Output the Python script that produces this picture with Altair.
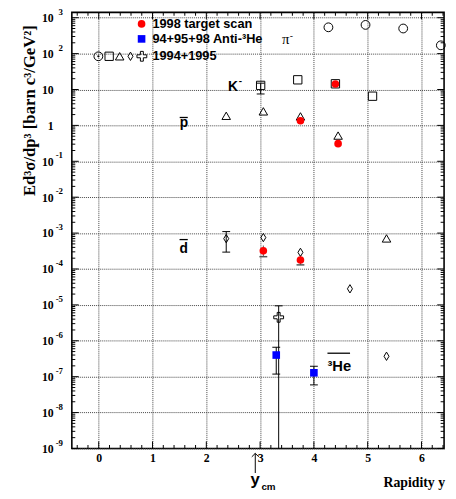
import altair as alt
import pandas as pd

# ---------------- data ----------------
# 1994+1995 open symbols
pim_x = [4.27, 4.96, 5.66, 6.36]            # pi-  (open circles)
pim_y = [540, 630, 500, 170]
km_x = [3.01, 3.70, 4.40, 5.09]             # K-   (open squares)
km_y = [13.0, 18.6, 14.4, 6.5]
pbar_x = [2.37, 3.06, 3.75, 4.45, 5.35]     # pbar (open triangles)
pbar_y = [1.85, 2.46, 1.78, 0.52, 7.1e-4]
dbar_x = [2.37, 3.06, 3.75, 4.67, 5.35]     # dbar (open diamonds)
dbar_y = [7.0e-4, 7.5e-4, 2.9e-4, 2.8e-5, 3.7e-7]
cross_x = [3.345]                           # open cross
cross_y = [4.5e-6]
# 1998 target scan (red)
red_x = [3.06, 3.75, 3.75, 4.40, 4.45]
red_y = [3.2e-4, 1.78e-4, 1.35, 14.2, 0.31]
# 94+95+98 Anti-3He (blue)
blue_x = [3.30, 4.00]
blue_y = [4.0e-7, 1.28e-7]

# error bars (black)
err_x = [2.37, 3.01, 3.345, 3.30, 4.00]
err_lo = [2.95e-4, 7.5, 1e-9, 1.18e-7, 5.9e-8]
err_hi = [1.1e-3, 15.0, 9.4e-6, 6.6e-7, 1.95e-7]
# error bars (red points, grey)
rerr_x = [3.06, 3.75]
rerr_lo = [2.2e-4, 1.3e-4]
rerr_hi = [4.5e-4, 2.4e-4]

y_cm = 2.91

x_major = [0, 1, 2, 3, 4, 5, 6]
x_minor = [-0.4, -0.2, 0.2, 0.4, 0.6, 0.8, 1.2, 1.4, 1.6, 1.8, 2.2, 2.4, 2.6, 2.8,
           3.2, 3.4, 3.6, 3.8, 4.2, 4.4, 4.6, 4.8, 5.2, 5.4, 5.6, 5.8, 6.2, 6.4]
y_exps = list(range(-9, 4))
y_major = [10.0 ** k for k in y_exps]
y_minor = [m * 10.0 ** k for k in range(-9, 4) for m in range(2, 10) if m * 10.0 ** k < 1400]
exp_labels = [str(k) for k in y_exps if k not in (0, 1)]
exp_vals = [10.0 ** k for k in y_exps if k not in (0, 1)]

legend_texts = ["1998 target scan", "94+95+98 Anti-\u00b3He", "1994+1995"]
y_title = "Ed\u00b3\u03c3/dp\u00b3  [barn c\u00b3/GeV\u00b2]"
x_title = "Rapidity y"

# ---------------- layout ----------------
W, H = 379, 444
SERIF = "Liberation Serif"
SANS = "Liberation Sans"

xs = alt.Scale(domain=[-0.5, 6.42], nice=False, zero=False)
ys = alt.Scale(type="log", domain=[1e-9, 1406], nice=False)

AXX = alt.Axis(values=x_major, title=None, grid=True, gridDash=[1, 1], gridColor="#444",
               gridWidth=1, ticks=False, domain=False, labelFont=SERIF, labelFontWeight="bold",
               labelFontSize=12, labelColor="black", labelPadding=4, labelFlush=False,
               labelOverlap=False)
AXY = alt.Axis(values=y_major, title=None, grid=True, gridDash=[1, 1], gridColor="#444",
               gridWidth=1, ticks=False, domain=False, labelFont=SERIF, labelFontWeight="bold",
               labelFontSize=12, labelColor="black", labelPadding=19, labelFlush=False,
               labelOverlap=False, labelBaseline="middle",
               labelExpr="datum.value == 1 ? '1' : '10'")

def X(f):
    return alt.X(f, type="quantitative", scale=xs, axis=AXX)

def Y(f):
    return alt.Y(f, type="quantitative", scale=ys, axis=AXY)

def pts(x, y):
    return pd.DataFrame({"x": x, "y": y})

dummy = pd.DataFrame({"a": [0]})

layers = []

# exponents of the y labels
layers.append(alt.Chart(pd.DataFrame({"v": exp_vals, "t": exp_labels})).mark_text(
    align="right", baseline="middle", dy=-6, font=SERIF, fontWeight="bold", fontSize=9,
    color="black").encode(x=alt.value(-9), y=Y("v"), text="t:N"))

# inner ticks on all four sides
TL, TS = 7, 3.5
for vals, ln in ((x_major, TL), (x_minor, TS)):
    d = pd.DataFrame({"x": vals})
    layers.append(alt.Chart(d).mark_tick(orient="vertical", size=ln, thickness=1,
                                         color="black", opacity=1).encode(
        x=X("x"), y=alt.value(H - ln / 2)))
    layers.append(alt.Chart(d).mark_tick(orient="vertical", size=ln, thickness=1,
                                         color="black", opacity=1).encode(
        x=X("x"), y=alt.value(ln / 2)))
for vals, ln in ((y_major, TL), (y_minor, TS)):
    d = pd.DataFrame({"y": vals})
    layers.append(alt.Chart(d).mark_tick(orient="horizontal", size=ln, thickness=1,
                                         color="black", opacity=1).encode(
        y=Y("y"), x=alt.value(ln / 2)))
    layers.append(alt.Chart(d).mark_tick(orient="horizontal", size=ln, thickness=1,
                                         color="black", opacity=1).encode(
        y=Y("y"), x=alt.value(W - ln / 2)))

# error bars
err = pd.DataFrame({"x": err_x, "lo": err_lo, "hi": err_hi})
layers.append(alt.Chart(err).mark_rule(color="black", strokeWidth=1).encode(
    x=X("x"), y=Y("lo"), y2="hi"))
cap_df = pd.DataFrame({"x": err_x * 2, "y": err_lo + err_hi})
cap_df = cap_df[cap_df["y"] > 1e-9]
layers.append(alt.Chart(cap_df).mark_tick(orient="horizontal", size=8, thickness=1,
                                          color="black", opacity=1).encode(x=X("x"), y=Y("y")))
rerr = pd.DataFrame({"x": rerr_x, "lo": rerr_lo, "hi": rerr_hi})
layers.append(alt.Chart(rerr).mark_rule(color="#555", strokeWidth=1).encode(
    x=X("x"), y=Y("lo"), y2="hi"))
layers.append(alt.Chart(pd.DataFrame({"x": rerr_x, "y": rerr_lo})).mark_tick(
    orient="horizontal", size=8, thickness=1.5, color="#555", opacity=1).encode(x=X("x"), y=Y("y")))

DIAMOND = "M0,-1L0.6,0L0,1L-0.6,0Z"
CROSS = ("M-0.3,-1L0.3,-1L0.3,-0.3L1,-0.3L1,0.3L0.3,0.3L0.3,1L-0.3,1L-0.3,0.3"
         "L-1,0.3L-1,-0.3L-0.3,-0.3Z")

def open_pts(x, y, shape, size):
    return alt.Chart(pts(x, y)).mark_point(shape=shape, size=size, filled=False,
                                           stroke="black", strokeWidth=1, opacity=1
                                           ).encode(x=X("x"), y=Y("y"))

layers.append(open_pts(pim_x, pim_y, "circle", 80))
layers.append(open_pts(km_x, km_y, "square", 72))
layers.append(open_pts(pbar_x, pbar_y, "triangle-up", 75))
layers.append(open_pts(dbar_x, dbar_y, DIAMOND, 72))
layers.append(open_pts(cross_x, cross_y, CROSS, 100))

layers.append(alt.Chart(pts(red_x, red_y)).mark_point(shape="circle", size=60, filled=True,
                                                      color="#ff0000", opacity=1).encode(x=X("x"), y=Y("y")))
layers.append(alt.Chart(pts(blue_x, blue_y)).mark_point(shape="square", size=60, filled=True,
                                                        color="#0000ff", opacity=1).encode(x=X("x"), y=Y("y")))

# particle labels (data coordinates)
def lab(text, x, y, font=SANS, size=14, weight="bold", dx=0, dy=0):
    return alt.Chart(pts([x], [y])).mark_text(text=text, align="left", baseline="alphabetic",
                                              font=font, fontSize=size, fontWeight=weight,
                                              color="black", dx=dx, dy=dy).encode(x=X("x"), y=Y("y"))

layers.append(lab("\u03c0", 3.407, 187, font=SERIF, size=15, weight="normal"))
layers.append(lab("-", 3.407, 187, font=SANS, size=10, weight="normal", dx=8, dy=-5))
layers.append(lab("K", 2.403, 8.93, size=14))
layers.append(lab("-", 2.403, 8.93, size=10, dx=11, dy=-7))
layers.append(lab("p", 1.505, 0.885, size=14))
layers.append(lab("d", 1.502, 2.73e-4, size=14))
layers.append(lab("\u00b3He", 4.252, 1.42e-7, size=15))
ovl = pd.DataFrame({"x": [1.505, 1.502, 4.252], "x2": [1.655, 1.655, 4.672],
                    "y": [1.66, 6.59e-4, 4.5e-7]})
layers.append(alt.Chart(ovl).mark_rule(color="black", strokeWidth=1.3).encode(
    x=X("x"), x2="x2", y=Y("y")))

# y_cm arrow below axis
ycm = pd.DataFrame({"x": [y_cm]})
layers.append(alt.Chart(ycm).mark_rule(color="black", strokeWidth=1).encode(
    x=X("x"), y=alt.value(449), y2=alt.value(469)))
layers.append(alt.Chart(ycm).mark_point(shape="M-1,1L0,0L1,1", size=50, filled=False,
                                        stroke="black", strokeWidth=1, opacity=1).encode(
    x=X("x"), y=alt.value(449)))

def vtext(text, x, y, font=SANS, size=13, weight="bold", align="left", angle=0):
    return alt.Chart(dummy).mark_text(text=text, align=align, baseline="alphabetic", font=font,
                                      fontSize=size, fontWeight=weight, color="black",
                                      angle=angle).encode(x=alt.value(x), y=alt.value(y))

layers.append(vtext("y", 182, 481, size=17))
layers.append(vtext("cm", 193, 486, size=10))
layers.append(vtext(x_title, 380, 483, font=SERIF, size=14, align="right"))
layers.append(vtext(y_title, -38, 100, font=SERIF, size=17, align="center", angle=270))

# legend
def vpt(x, y, shape, size, filled, color):
    if filled:
        mk = alt.Chart(dummy).mark_point(shape=shape, size=size, filled=True, color=color, opacity=1)
    else:
        mk = alt.Chart(dummy).mark_point(shape=shape, size=size, filled=False, stroke=color,
                                         strokeWidth=1, opacity=1)
    return mk.encode(x=alt.value(x), y=alt.value(y))

layers.append(vpt(71, 11.7, "circle", 60, True, "#ff0000"))
layers.append(vpt(71, 27, "square", 60, True, "#0000ff"))
layers.append(vpt(27, 44.7, "circle", 80, False, "black"))
layers.append(vpt(27, 44.7, "circle", 5, True, "black"))
layers.append(vpt(38, 44.7, "square", 72, False, "black"))
layers.append(vpt(48.7, 44.7, "triangle-up", 75, False, "black"))
layers.append(vpt(59.7, 44.7, DIAMOND, 72, False, "black"))
layers.append(vpt(71.3, 44.7, CROSS, 100, False, "black"))
layers.append(vtext(legend_texts[0], 82, 16, size=13))
layers.append(vtext(legend_texts[1], 82, 31.3, size=13))
layers.append(vtext(legend_texts[2], 82, 48.7, size=13))

chart = alt.layer(*layers).properties(
    width=W, height=H, autosize="none",
    padding={"left": 65, "top": 0, "right": 4, "bottom": 47},
    background="white",
).configure_view(stroke="black", strokeWidth=1.6)

chart.save("out.html", embed_options={"renderer": "svg", "actions": False})
